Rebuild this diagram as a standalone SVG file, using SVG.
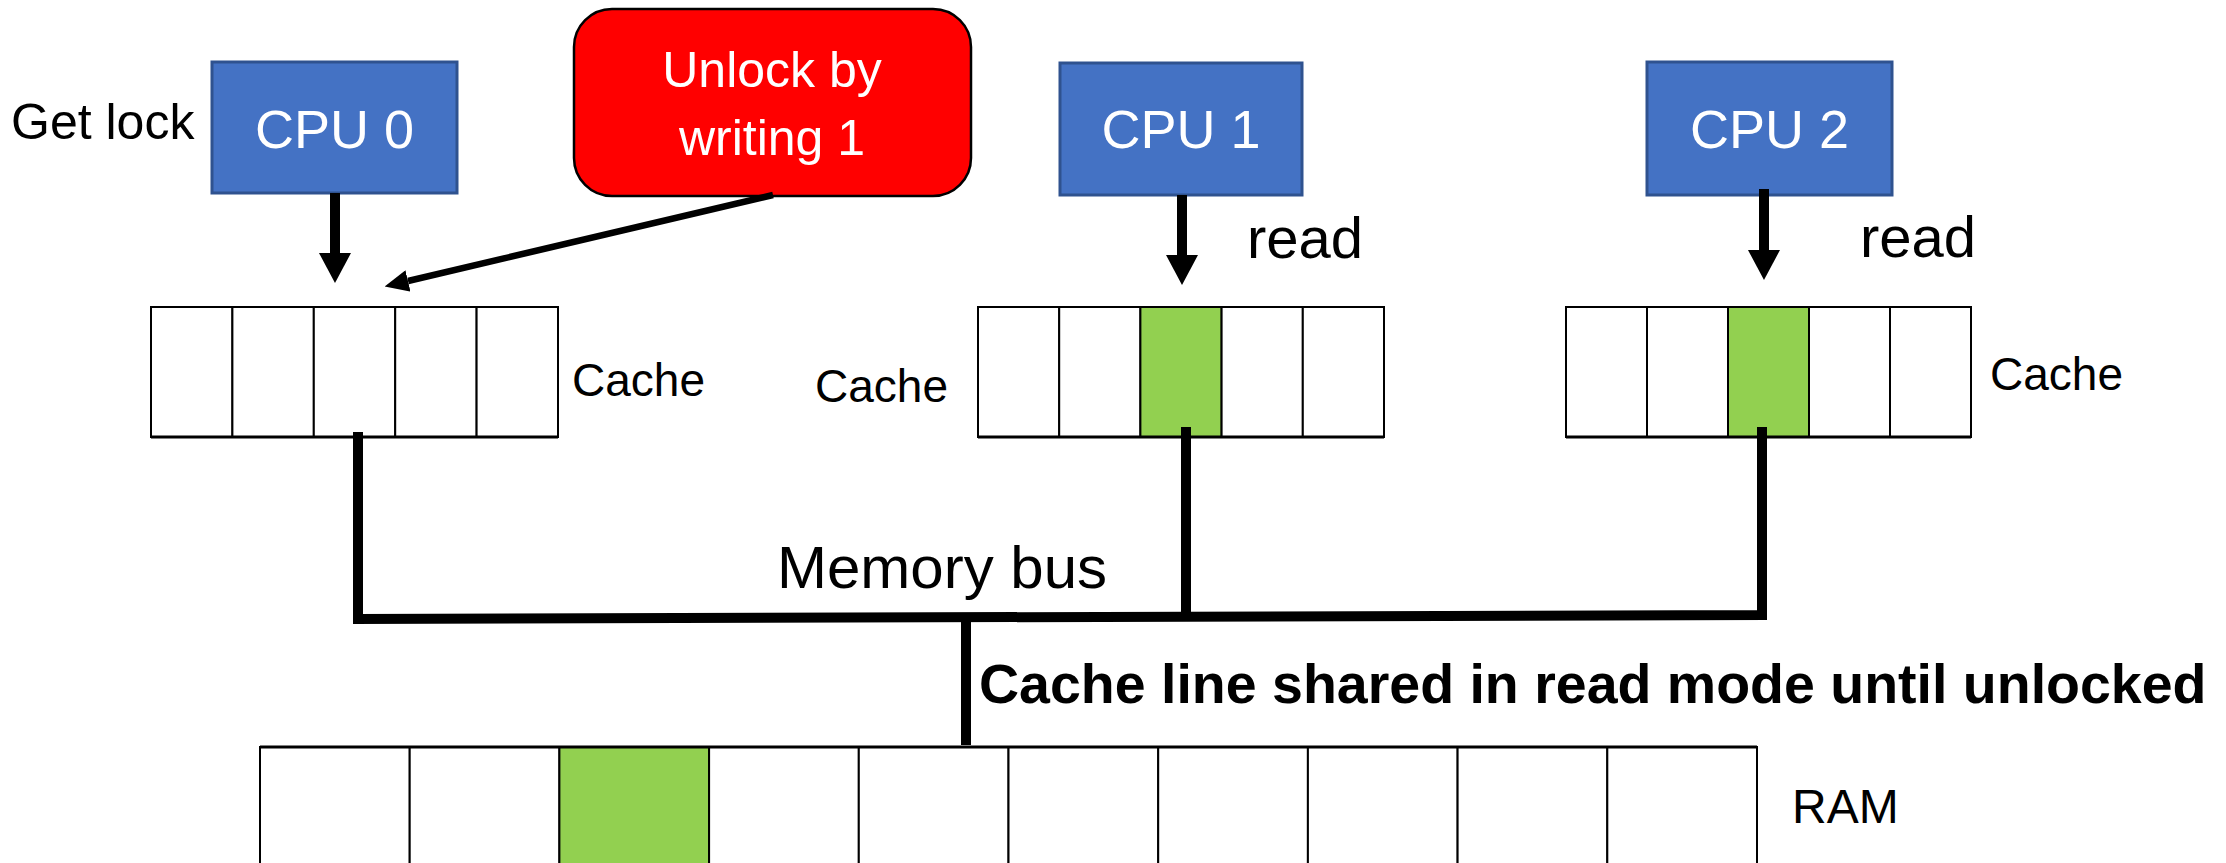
<svg xmlns="http://www.w3.org/2000/svg" width="2226" height="863" viewBox="0 0 2226 863">
<style>
text{font-family:"Liberation Sans",Arial,sans-serif;fill:#000}
.cpu{fill:#4472C4;stroke:#2F528F;stroke-width:3}
.cpuT{fill:#fff;font-size:54px;text-anchor:middle}
.cell{fill:#fff;stroke:#000;stroke-width:2}
.hit{fill:#92D050;stroke:#000;stroke-width:2}
.lbl{font-size:46px}
.bus{stroke:#000;stroke-width:10;fill:none;stroke-linecap:square}
.arr{stroke:#000;stroke-width:10;fill:none}
</style>
<defs>
<marker id="head" markerUnits="userSpaceOnUse" markerWidth="32" markerHeight="32" viewBox="0 0 30 32" refX="0" refY="16" orient="auto">
<path d="M0,0 L30,16 L0,32 z" fill="#000"/>
</marker>
<marker id="headS" markerUnits="userSpaceOnUse" markerWidth="24" markerHeight="22" viewBox="0 0 24 22" refX="0" refY="11" orient="auto">
<path d="M0,0 L24,11 L0,22 z" fill="#000"/>
</marker>
</defs>
<rect width="2226" height="863" fill="#fff"/>

<g id="cpu0">
<rect class="cpu" x="212" y="62" width="245" height="131"/>
<text class="cpuT" x="334.5" y="148">CPU 0</text>
</g>
<g id="getlock"><text x="11" y="139" font-size="50">Get lock</text></g>

<g id="unlock">
<rect x="574" y="9" width="397" height="187" rx="38" fill="#FF0000" stroke="#000" stroke-width="2.5"/>
<text x="772" y="87" font-size="50" text-anchor="middle" style="fill:#fff">Unlock by</text>
<text x="772" y="155" font-size="50" text-anchor="middle" style="fill:#fff">writing 1</text>
</g>

<g id="cpu1">
<rect class="cpu" x="1060" y="63" width="242" height="132"/>
<text class="cpuT" x="1181" y="148">CPU 1</text>
</g>
<g id="cpu2">
<rect class="cpu" x="1647" y="62" width="245" height="133"/>
<text class="cpuT" x="1769.5" y="148">CPU 2</text>
</g>

<g id="read1"><text x="1247" y="258" font-size="58">read</text></g>
<g id="read2"><text x="1860" y="257" font-size="58">read</text></g>

<g id="cache0">
<rect class="cell" x="151" y="307" width="81.4" height="130"/>
<rect class="cell" x="232.4" y="307" width="81.4" height="130"/>
<rect class="cell" x="313.8" y="307" width="81.4" height="130"/>
<rect class="cell" x="395.2" y="307" width="81.4" height="130"/>
<rect class="cell" x="476.6" y="307" width="81.4" height="130"/>
<line x1="151" y1="437" x2="558" y2="437" stroke="#000" stroke-width="3"/>
<text class="lbl" x="572" y="396">Cache</text>
</g>

<g id="cache1">
<rect class="cell" x="978" y="307" width="81.2" height="130"/>
<rect class="cell" x="1059.2" y="307" width="81.2" height="130"/>
<rect class="hit" x="1140.4" y="307" width="81.2" height="130"/>
<rect class="cell" x="1221.6" y="307" width="81.2" height="130"/>
<rect class="cell" x="1302.8" y="307" width="81.2" height="130"/>
<line x1="978" y1="437" x2="1384" y2="437" stroke="#000" stroke-width="3"/>
<text class="lbl" x="815" y="402">Cache</text>
</g>

<g id="cache2">
<rect class="cell" x="1566" y="307" width="81" height="130"/>
<rect class="cell" x="1647" y="307" width="81" height="130"/>
<rect class="hit" x="1728" y="307" width="81" height="130"/>
<rect class="cell" x="1809" y="307" width="81" height="130"/>
<rect class="cell" x="1890" y="307" width="81" height="130"/>
<line x1="1566" y1="437" x2="1971" y2="437" stroke="#000" stroke-width="3"/>
<text class="lbl" x="1990" y="390">Cache</text>
</g>

<g id="ram">
<rect class="cell" x="260" y="747" width="149.7" height="130"/>
<rect class="cell" x="409.7" y="747" width="149.7" height="130"/>
<rect class="hit" x="559.4" y="747" width="149.7" height="130"/>
<rect class="cell" x="709.1" y="747" width="149.7" height="130"/>
<rect class="cell" x="858.8" y="747" width="149.7" height="130"/>
<rect class="cell" x="1008.5" y="747" width="149.7" height="130"/>
<rect class="cell" x="1158.2" y="747" width="149.7" height="130"/>
<rect class="cell" x="1307.9" y="747" width="149.7" height="130"/>
<rect class="cell" x="1457.6" y="747" width="149.7" height="130"/>
<rect class="cell" x="1607.3" y="747" width="149.7" height="130"/>
<line x1="260" y1="747" x2="1757" y2="747" stroke="#000" stroke-width="3"/>
<text x="1792" y="823" font-size="48">RAM</text>
</g>

<g id="labels">
<text x="777" y="588" font-size="60">Memory bus</text>
<text x="979" y="703" font-size="55.5" font-weight="bold">Cache line shared in read mode until unlocked</text>
</g>

<g id="connectors">
<line class="arr" x1="335" y1="193" x2="335" y2="253" marker-end="url(#head)"/>
<line class="arr" x1="1182" y1="195" x2="1182" y2="255" marker-end="url(#head)"/>
<line class="arr" x1="1764" y1="189" x2="1764" y2="250" marker-end="url(#head)"/>
<line x1="773" y1="195" x2="408" y2="281" stroke="#000" stroke-width="6.5" marker-end="url(#headS)"/>
<polyline class="bus" points="358,437 358,619 1762,615 1762,432"/>
<line class="bus" x1="1186" y1="432" x2="1186" y2="615"/>
<line class="bus" x1="966" y1="619" x2="966" y2="745" style="stroke-linecap:butt"/>
</g>
</svg>
